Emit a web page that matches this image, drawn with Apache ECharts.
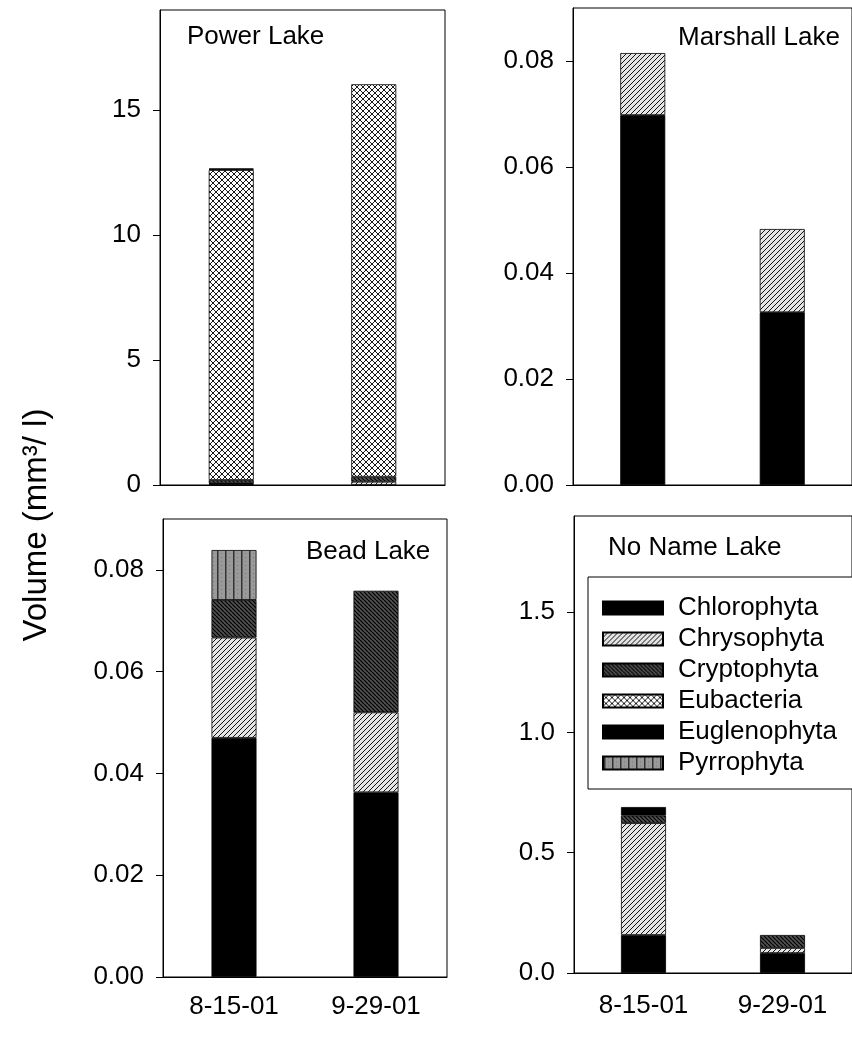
<!DOCTYPE html>
<html>
<head>
<meta charset="utf-8">
<script src="https://cdn.jsdelivr.net/npm/echarts@6/dist/echarts.min.js"></script>
<style>
html,body{margin:0;padding:0;background:#fff;}
#chart{width:852px;height:1042px;}
</style>
</head>
<body>
<div id="chart"></div>
<script>
// ---------- DATA ----------
const categories = ['8-15-01', '9-29-01'];
const groups = ['Chlorophyta', 'Chrysophyta', 'Cryptophyta', 'Eubacteria', 'Euglenophyta', 'Pyrrophyta'];

// rows follow `groups`, columns follow `categories` (mm3/l)
const powerLake = [
  [0.05, 0.0],
  [0.02, 0.13],
  [0.13, 0.2],
  [12.4, 15.7],
  [0.03, 0.0],
  [0.03, 0.0]
];
const marshallLake = [
  [0.0698, 0.0326],
  [0.0117, 0.0157],
  [0, 0],
  [0, 0],
  [0, 0],
  [0, 0]
];
const beadLake = [
  [0.047, 0.0363],
  [0.0197, 0.0157],
  [0.0074, 0.0239],
  [0, 0],
  [0, 0],
  [0.0098, 0]
];
const noNameLake = [
  [0.158, 0.083],
  [0.465, 0.021],
  [0.032, 0.054],
  [0, 0],
  [0.035, 0],
  [0, 0]
];

const powerTicks = [0, 5, 10, 15];
const marshallTicks = [0, 0.02, 0.04, 0.06, 0.08];
const beadTicks = [0, 0.02, 0.04, 0.06, 0.08];
const noNameTicks = [0, 0.5, 1.0, 1.5];

const yTitle = 'Volume (mm³/ l)';

// ---------- PATTERNS ----------
function tile(w, h, bg, draw) {
  const c = document.createElement('canvas');
  c.width = w; c.height = h;
  const g = c.getContext('2d');
  g.fillStyle = bg; g.fillRect(0, 0, w, h);
  draw(g, w, h);
  return { image: c, repeat: 'repeat' };
}
function diag(g, s, dir, color, lw) {
  g.strokeStyle = color; g.lineWidth = lw;
  g.beginPath();
  for (let k = -1; k <= 1; k++) {
    if (dir > 0) { g.moveTo(k * s, s); g.lineTo(k * s + s, 0); }
    else { g.moveTo(k * s, 0); g.lineTo(k * s + s, s); }
  }
  g.stroke();
}
const patterns = {
  Chlorophyta: '#000',
  Chrysophyta: tile(5, 5, '#e4e4e4', (g, s) => diag(g, s, 1, '#111', 1)),
  Cryptophyta: tile(4, 4, '#505050', (g, s) => diag(g, s, -1, '#000', 1.2)),
  Eubacteria: tile(6, 6, '#fff', (g, s) => { diag(g, s, 1, '#000', 0.9); diag(g, s, -1, '#000', 0.9); }),
  Euglenophyta: '#000',
  Pyrrophyta: tile(8, 4, '#9a9a9a', (g) => { g.fillStyle = '#333'; g.fillRect(1, 0, 1.5, 4); g.fillStyle = '#777'; g.fillRect(5, 1, 1, 1); })
};

// ---------- LAYOUT ----------
const FONT = "'Liberation Sans', Arial, sans-serif";
const panels = [
  { name: 'Power Lake', data: powerLake, ticks: powerTicks, max: 19, dec: 0, showX: false, xMargin: 14,
    grid: { left: 160, top: 10, width: 285, height: 475 }, title: [187, 37] },
  { name: 'Marshall Lake', data: marshallLake, ticks: marshallTicks, max: 0.09, dec: 2, showX: false, xMargin: 14,
    grid: { left: 573, top: 8, width: 288, height: 477 }, title: [678, 38] },
  { name: 'Bead Lake', data: beadLake, ticks: beadTicks, max: 0.09, dec: 2, showX: true, xMargin: 17,
    grid: { left: 163, top: 519, width: 284, height: 458 }, title: [306, 552] },
  { name: 'No Name Lake', data: noNameLake, ticks: noNameTicks, max: 1.9, dec: 1, showX: true, xMargin: 20,
    grid: { left: 574, top: 516, width: 287, height: 457 }, title: [608, 548] }
];

const grids = [], xAxes = [], yAxes = [], series = [], graphics = [];
panels.forEach((p, i) => {
  grids.push(Object.assign({ show: true, borderColor: '#000', borderWidth: 1, backgroundColor: 'transparent' }, p.grid));
  xAxes.push({
    type: 'category', gridIndex: i, data: categories,
    axisLine: { lineStyle: { color: '#000', width: 1 } },
    axisTick: { alignWithLabel: true, length: 7, lineStyle: { color: '#000' } },
    axisLabel: { show: p.showX, color: '#000', fontSize: 26, fontFamily: FONT, margin: p.xMargin }
  });
  yAxes.push({
    type: 'value', gridIndex: i, min: 0, max: p.max, interval: p.ticks[1] - p.ticks[0],
    splitLine: { show: false },
    axisLine: { show: true, lineStyle: { color: '#000', width: 1 } },
    axisTick: { show: true, length: 7, lineStyle: { color: '#000' }, customValues: p.ticks },
    axisLabel: { color: '#000', fontSize: 26, fontFamily: FONT, margin: 19, customValues: p.ticks,
      formatter: v => Number(v).toFixed(p.dec) }
  });
  groups.forEach((gname, j) => {
    series.push({
      type: 'bar', name: gname, xAxisIndex: i, yAxisIndex: i, stack: 'lake' + i,
      barWidth: 45,
      data: p.data[j].map(v => (v === 0 ? '-' : v)),
      itemStyle: { color: patterns[gname], borderColor: '#000', borderWidth: 0.8 },
      emphasis: { disabled: true }
    });
  });
  graphics.push({
    type: 'text', x: p.title[0], y: p.title[1], z: 10,
    style: { text: p.name, fill: '#000', font: '26px ' + FONT, textVerticalAlign: 'middle', textAlign: 'left' }
  });
});

graphics.push({
  type: 'text', x: 37, y: 525, rotation: Math.PI / 2, z: 10,
  style: { text: yTitle, fill: '#000', font: '33px ' + FONT, textAlign: 'center', textVerticalAlign: 'middle' }
});

const chart = echarts.init(document.getElementById('chart'), null, { renderer: 'canvas' });
chart.setOption({
  animation: false,
  backgroundColor: '#fff',
  grid: grids,
  xAxis: xAxes,
  yAxis: yAxes,
  series: series,
  legend: {
    data: groups,
    orient: 'vertical',
    left: 588, top: 577,
    padding: [18, 18, 13, 14],
    itemGap: 5,
    itemWidth: 60, itemHeight: 13,
    icon: 'rect',
    borderColor: '#000', borderWidth: 1,
    backgroundColor: '#fff',
    selectedMode: false,
    textStyle: { color: '#000', fontSize: 26, fontFamily: FONT, lineHeight: 24, padding: [0, 0, 0, 10] }
  },
  graphic: graphics
});
</script>
</body>
</html>
